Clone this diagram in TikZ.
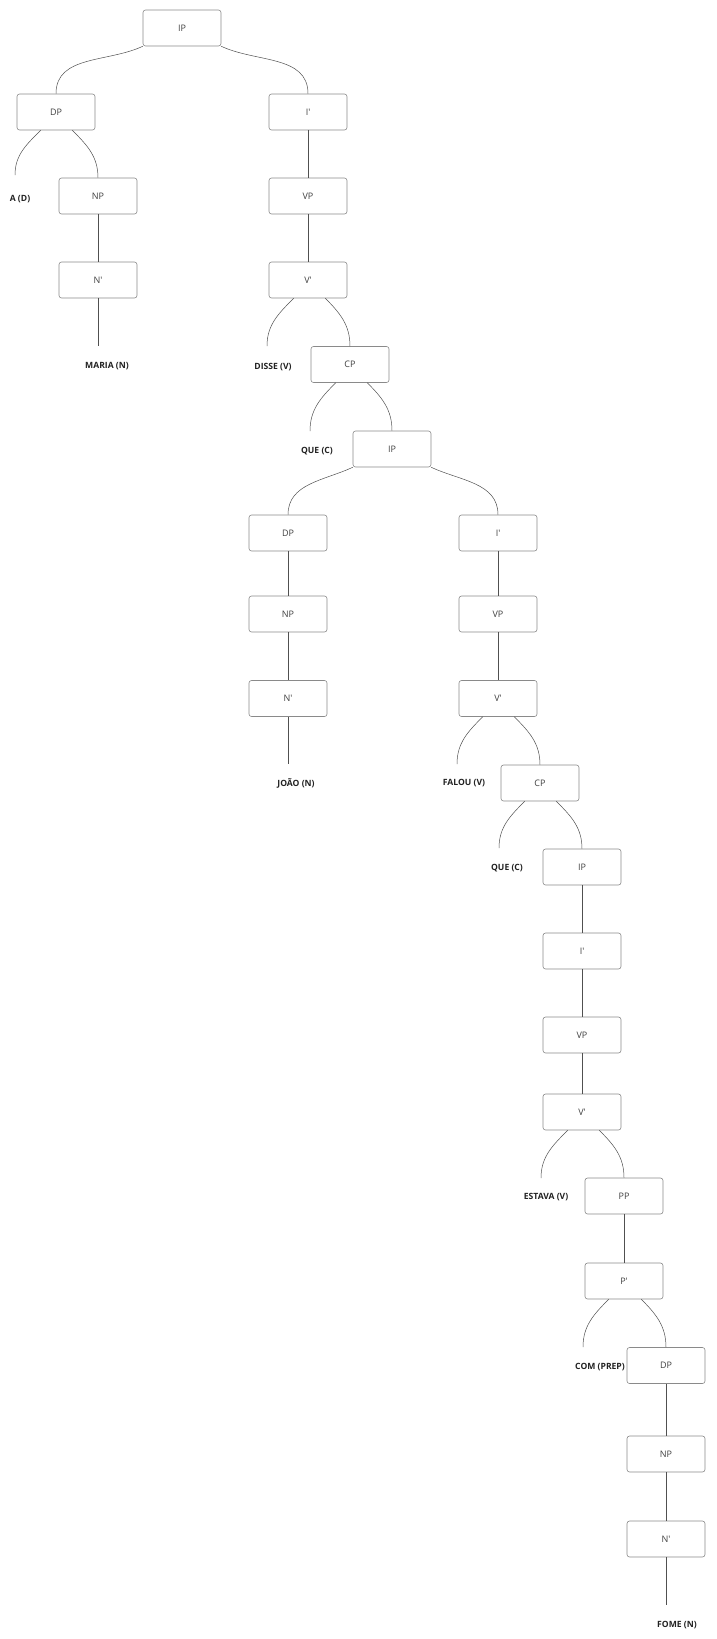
\documentclass[tikz,border=0pt]{standalone}
\usepackage{fontspec}
\setmainfont{Open Sans}
\definecolor{boxc}{HTML}{8A8A8A}
\definecolor{linec}{HTML}{505050}
\definecolor{txtc}{HTML}{404040}
\definecolor{lblc}{HTML}{222222}
\begin{document}
\begin{tikzpicture}[x=1pt,y=-1pt,
  box/.style={draw=boxc, fill=white, rounded corners=2.5pt, line width=0.6pt,
    minimum width=78pt, minimum height=36pt, inner sep=0pt,
    font=\fontsize{9}{10}\selectfont, text=txtc},
  lbl/.style={font=\bfseries\fontsize{8.6}{10}\selectfont, text=lblc, inner sep=0pt},
  edge/.style={draw=linec, line width=0.5pt},
  lft/.style={out=225,in=90},
  rgt/.style={out=-45,in=90},
  wlft/.style={out=205,in=90},
  wrgt/.style={out=-25,in=90}
]
\useasboundingbox (0,0) rectangle (716,1639);
% boxes
\node[box] (ip0)  at (182,28)    {IP};
\node[box] (dp1)  at (56,112)    {DP};
\node[box] (ib1)  at (308,112)   {I\textquotesingle};
\node[box] (np2)  at (98,196)    {NP};
\node[box] (vp2)  at (308,196)   {VP};
\node[box] (nb3)  at (98,280)    {N\textquotesingle};
\node[box] (vb3)  at (308,280)   {V\textquotesingle};
\node[box] (cp4)  at (350,364.5) {CP};
\node[box] (ip5)  at (392,449)   {IP};
\node[box] (dp6)  at (288,533)   {DP};
\node[box] (ib6)  at (498,533)   {I\textquotesingle};
\node[box] (np7)  at (288,614)   {NP};
\node[box] (vp7)  at (498,614)   {VP};
\node[box] (nb8)  at (288,698.5) {N\textquotesingle};
\node[box] (vb8)  at (498,698.5) {V\textquotesingle};
\node[box] (cp9)  at (540,783)   {CP};
\node[box] (ip10) at (582,867)   {IP};
\node[box] (ib11) at (582,951)   {I\textquotesingle};
\node[box] (vp12) at (582,1035)  {VP};
\node[box] (vb13) at (582,1112)  {V\textquotesingle};
\node[box] (pp14) at (624,1196)  {PP};
\node[box] (pb15) at (624,1281)  {P\textquotesingle};
\node[box] (dp16) at (666,1365.5){DP};
\node[box] (np17) at (666,1454)  {NP};
\node[box] (nb18) at (666,1539)  {N\textquotesingle};
% labels
\node[lbl] (lA)     at (20,199)   {A (D)};
\node[lbl] (lMaria) at (107,366)  {MARIA (N)};
\node[lbl] (lDisse) at (273,367)  {DISSE (V)};
\node[lbl] (lQueA)  at (317,451)  {QUE (C)};
\node[lbl] (lJoao)  at (296,783)  {JOÃO (N)};
\node[lbl] (lFalou) at (464,783)  {FALOU (V)};
\node[lbl] (lQueB)  at (507,868)  {QUE (C)};
\node[lbl] (lEstava) at (546,1197) {ESTAVA (V)};
\node[lbl] (lCom)   at (600,1367) {COM (PREP)};
\node[lbl] (lFome)  at (677,1625) {FOME (N)};
% free ends
\coordinate (eA)     at (15,175);
\coordinate (eMaria) at (98,346);
\coordinate (eDisse) at (267,346);
\coordinate (eQueA)  at (310,431);
\coordinate (eJoao)  at (288,764);
\coordinate (eFalou) at (457,764);
\coordinate (eQueB)  at (499,848);
\coordinate (eEstava) at (541,1178);
\coordinate (eCom)   at (583,1347);
\coordinate (eFome)  at (666,1605);
% connectors
\draw[edge] (ip0.south west) to[wlft] (dp1.north);
\draw[edge] (ip0.south east) to[wrgt] (ib1.north);
\draw[edge] ([xshift=24pt]dp1.south west) to[lft] (eA);
\draw[edge] ([xshift=-23pt]dp1.south east) to[rgt] (np2.north);
\draw[edge] (np2.south) -- (nb3.north);
\draw[edge] (nb3.south) -- (eMaria);
\draw[edge] (ib1.south) -- (vp2.north);
\draw[edge] (vp2.south) -- (vb3.north);
\draw[edge] ([xshift=25pt]vb3.south west) to[lft] (eDisse);
\draw[edge] ([xshift=-22pt]vb3.south east) to[rgt] (cp4.north);
\draw[edge] ([xshift=25pt]cp4.south west) to[lft] (eQueA);
\draw[edge] ([xshift=-22pt]cp4.south east) to[rgt] (ip5.north);
\draw[edge] (ip5.south west) to[wlft] (dp6.north);
\draw[edge] (ip5.south east) to[wrgt] (ib6.north);
\draw[edge] (dp6.south) -- (np7.north);
\draw[edge] (np7.south) -- (nb8.north);
\draw[edge] (nb8.south) -- (eJoao);
\draw[edge] (ib6.south) -- (vp7.north);
\draw[edge] (vp7.south) -- (vb8.north);
\draw[edge] ([xshift=24pt]vb8.south west) to[lft] (eFalou);
\draw[edge] ([xshift=-23pt]vb8.south east) to[rgt] (cp9.north);
\draw[edge] ([xshift=24pt]cp9.south west) to[lft] (eQueB);
\draw[edge] ([xshift=-23pt]cp9.south east) to[rgt] (ip10.north);
\draw[edge] (ip10.south) -- (ib11.north);
\draw[edge] (ib11.south) -- (vp12.north);
\draw[edge] (vp12.south) -- (vb13.north);
\draw[edge] ([xshift=25pt]vb13.south west) to[lft] (eEstava);
\draw[edge] ([xshift=-22pt]vb13.south east) to[rgt] (pp14.north);
\draw[edge] (pp14.south) -- (pb15.north);
\draw[edge] ([xshift=24pt]pb15.south west) to[lft] (eCom);
\draw[edge] ([xshift=-22pt]pb15.south east) to[rgt] (dp16.north);
\draw[edge] (dp16.south) -- (np17.north);
\draw[edge] (np17.south) -- (nb18.north);
\draw[edge] (nb18.south) -- (eFome);
\end{tikzpicture}
\end{document}
